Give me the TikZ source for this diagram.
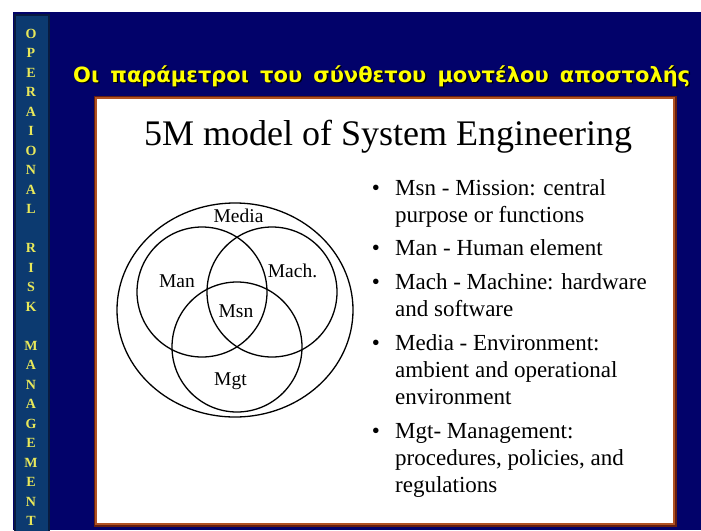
\documentclass[tikz,border=0pt]{standalone}
\usepackage{fontspec}
\setmainfont{Liberation Serif}
\newfontfamily\titlefont{DejaVu Sans}
\usetikzlibrary{shapes.geometric}

\definecolor{navy}{RGB}{2,2,106}
\definecolor{sidebar}{RGB}{12,58,112}
\definecolor{sideedge}{RGB}{8,26,64}
\definecolor{sideletter}{RGB}{232,232,90}
\definecolor{titleyellow}{RGB}{255,255,0}
\definecolor{rust}{RGB}{176,82,34}
\definecolor{rustdark}{RGB}{100,30,16}

% slide headline, words spread over a fixed width
\newcommand{\headtext}{\makebox[617pt][s]{Οι\hfill παράμετροι\hfill του\hfill σύνθετου\hfill μοντέλου\hfill αποστολής}}

\tikzset{
  sideltr/.style={anchor=base, inner sep=0pt, text=sideletter,
    font=\bfseries\fontsize{14}{16}\selectfont},
  headline/.style={anchor=base west, inner sep=0pt,
    font=\titlefont\bfseries\fontsize{21}{24}\selectfont},
  heading/.style={anchor=base, inner sep=0pt, font=\fontsize{36}{40}\selectfont},
  vcircle/.style={circle, draw=black, line width=1.3pt, minimum size=130pt, inner sep=0pt},
  vouter/.style={ellipse, draw=black, line width=1.3pt, minimum width=236pt,
    minimum height=214pt, inner sep=0pt},
  vlabel/.style={anchor=base, inner sep=0pt, font=\fontsize{19.5}{22}\selectfont},
  bline/.style={anchor=base west, inner sep=0pt, font=\fontsize{23}{26}\selectfont},
  bdot/.style={anchor=base, inner sep=0pt, font=\fontsize{23}{26}\selectfont},
}

\begin{document}
\begin{tikzpicture}[x=1pt, y=-1pt]
  \useasboundingbox (0,0) rectangle (701,530);

  % page background
  \fill[white] (0,0) rectangle (701,530);
  \fill[navy] (13,12) rectangle (701,530);

  % left sidebar with vertical caption
  \filldraw[fill=sidebar, draw=sideedge, line width=1.5pt] (15,15) rectangle (49,532);
  \foreach \ch [count=\i] in {O,P,E,R,A,I,O,N,A,L,{},R,I,S,K,{},M,A,N,A,G,E,M,E,N,T}
    \node[sideltr] (ltr\i) at (31, {38+(\i-1)*19.5}) {\ch};

  % slide headline with drop shadow
  \node[headline, text=black] (headshadow) at (74.3,83.3) {\headtext};
  \node[headline, text=titleyellow] (headline) at (73,82) {\headtext};

  % white panel with rust frame
  \draw[rustdark, line width=5pt] (96,98) rectangle (674,524);
  \filldraw[fill=white, draw=rust, line width=2.6pt] (96,98) rectangle (674,524);

  \node[heading] (heading) at (388,145) {5M model of System Engineering};

  % 5M diagram
  \node[vouter] (media) at (235,310) {};
  \node[vcircle] (man) at (202,292) {};
  \node[vcircle] (mach) at (272,292) {};
  \node[vcircle] (mgt) at (237,347) {};

  \node[vlabel] (lmedia) at (238.5,222) {Media};
  \node[vlabel] (lman) at (177,287) {Man};
  \node[vlabel] (lmach) at (292.5,277) {Mach.};
  \node[vlabel] (lmsn) at (236,317) {Msn};
  \node[vlabel] (lmgt) at (230.5,385) {Mgt};

  % bullet list
  \foreach \y [count=\i] in {195,255.8,289.3,350.1,438.2}
    \node[bdot] (dot\i) at (376,\y) {•};

  \node[bline] (t1a) at (395,195)   {Msn - Mission: central};
  \node[bline] (t1b) at (395,222.3) {purpose or functions};
  \node[bline] (t2a) at (395,255.8) {Man - Human element};
  \node[bline] (t3a) at (395,289.3) {Mach - Machine: hardware};
  \node[bline] (t3b) at (395,316.6) {and software};
  \node[bline] (t4a) at (395,350.1) {Media - Environment:};
  \node[bline] (t4b) at (395,377.4) {ambient and operational};
  \node[bline] (t4c) at (395,404.7) {environment};
  \node[bline] (t5a) at (395,438.2) {Mgt- Management:};
  \node[bline] (t5b) at (395,465.5) {procedures, policies, and};
  \node[bline] (t5c) at (395,492.8) {regulations};
\end{tikzpicture}
\end{document}
